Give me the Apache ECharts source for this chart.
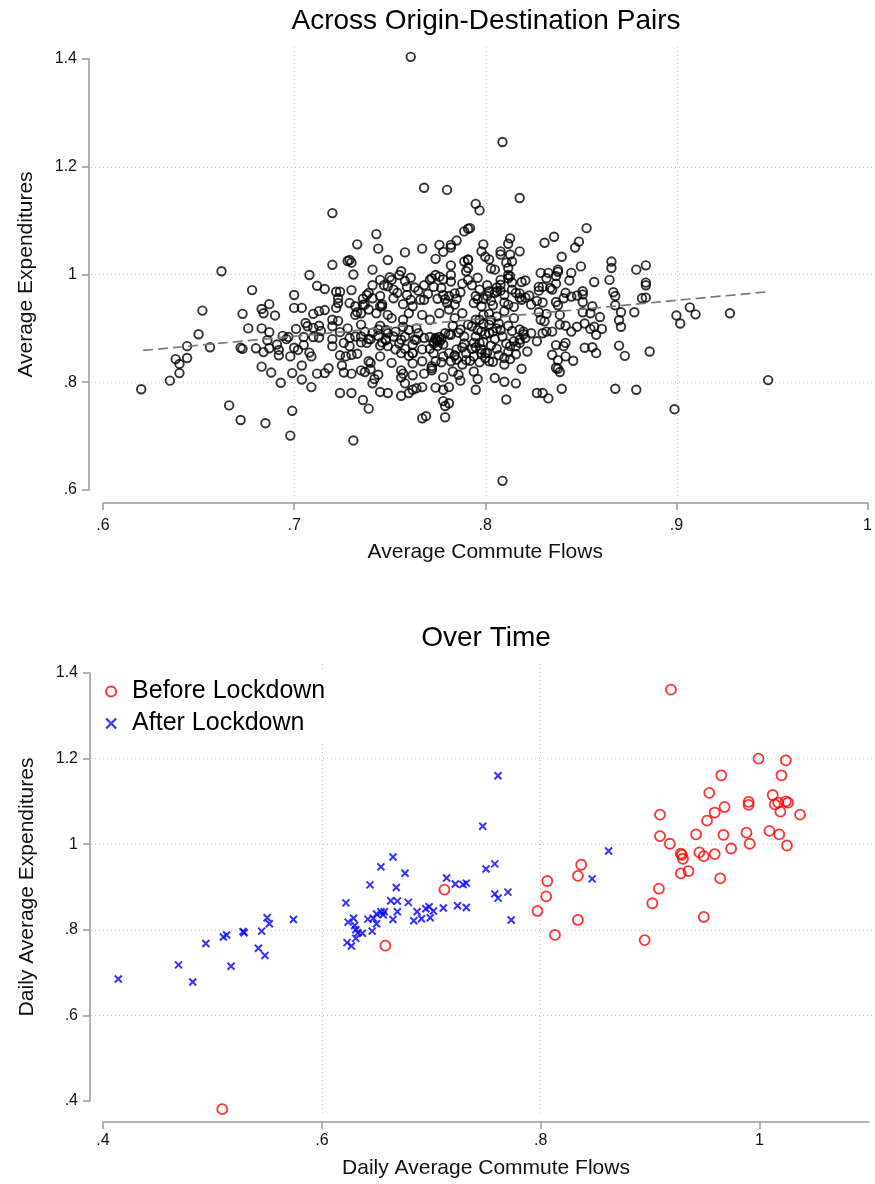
<!DOCTYPE html>
<html>
<head>
<meta charset="utf-8">
<script src="https://cdn.jsdelivr.net/npm/echarts@6/dist/echarts.min.js"></script>
<style>html,body{margin:0;padding:0;background:#fff}#c{width:875px;height:1184px}</style>
</head>
<body>
<div id="c"></div>
<script>
// ---------- Panel 1: Across Origin-Destination Pairs  [flows, expenditures] ----------
const odPoints = [
[0.620,0.787],[0.635,0.803],[0.640,0.817],[0.640,0.834],[0.638,0.843],[0.644,0.845],[0.644,0.867],[0.650,0.889],[0.652,0.933],[0.656,0.865],[0.662,1.006],[0.666,0.757],[0.672,0.730],[0.672,0.864],[0.673,0.862],[0.673,0.927],[0.676,0.900],[0.678,0.971],[0.680,0.863],[0.683,0.936],[0.684,0.928],[0.683,0.900],[0.683,0.829],[0.684,0.856],[0.685,0.724],[0.687,0.945],[0.687,0.863],[0.687,0.893],[0.686,0.878],[0.688,0.818],[0.690,0.924],[0.691,0.870],[0.692,0.860],[0.692,0.850],[0.693,0.799],[0.694,0.886],[0.696,0.880],[0.697,0.884],[0.698,0.701],[0.699,0.747],[0.699,0.817],[0.698,0.848],[0.700,0.864],[0.700,0.962],[0.700,0.938],[0.701,0.899],[0.704,0.938],[0.704,0.831],[0.704,0.805],[0.702,0.860],[0.705,0.869],[0.706,0.910],[0.707,0.904],[0.705,0.884],[0.708,0.999],[0.708,0.855],[0.709,0.848],[0.709,0.791],[0.710,0.884],[0.710,0.927],[0.710,0.901],[0.712,0.979],[0.713,0.932],[0.713,0.883],[0.712,0.816],[0.713,0.905],[0.716,0.973],[0.716,0.934],[0.716,0.817],[0.718,0.826],[0.720,0.916],[0.720,0.904],[0.720,0.880],[0.720,1.018],[0.720,0.867],[0.722,0.968],[0.723,0.956],[0.722,0.938],[0.723,0.947],[0.723,0.914],[0.724,0.893],[0.724,0.850],[0.724,0.968],[0.724,0.780],[0.725,0.831],[0.726,0.818],[0.726,0.873],[0.727,0.848],[0.728,1.025],[0.714,0.895],[0.728,0.900],
[0.720,1.114],[0.768,1.161],[0.780,1.157],[0.743,1.075],[0.733,1.056],[0.744,1.048],[0.758,1.041],[0.767,1.048],[0.774,1.029],[0.776,1.055],[0.778,1.042],[0.782,1.055],[0.782,1.050],[0.785,1.063],[0.789,1.080],[0.791,1.085],[0.749,1.027],[0.729,1.027],[0.730,1.022],[0.741,1.009],[0.731,1.000],[0.782,1.017],[0.789,1.024],[0.791,1.027],[0.756,1.006],[0.761,0.994],[0.758,0.988],[0.755,0.999],[0.730,0.971],[0.745,0.990],[0.750,0.995],[0.751,0.990],[0.747,0.980],[0.749,0.978],[0.741,0.980],[0.759,0.977],[0.763,0.976],[0.754,0.966],[0.739,0.966],[0.741,0.956],[0.738,0.962],[0.752,0.956],[0.761,0.953],[0.759,0.962],[0.768,0.980],[0.771,0.990],[0.772,0.993],[0.774,0.999],[0.776,0.996],[0.778,0.991],[0.773,0.977],[0.777,0.975],[0.778,0.962],[0.782,0.987],[0.784,0.965],[0.788,0.983],[0.791,0.990],[0.790,1.006],[0.782,0.999],[0.729,0.947],[0.766,0.953],[0.768,0.953],[0.779,0.954],[0.781,0.960],[0.787,0.967],[0.732,0.941],[0.736,0.944],[0.745,0.941],[0.737,0.944],[0.746,0.941],
[0.731,0.692],[0.736,0.767],[0.739,0.751],[0.767,0.733],[0.769,0.737],[0.779,0.735],[0.779,0.756],[0.778,0.765],[0.781,0.761],[0.730,0.780],[0.745,0.782],[0.749,0.780],[0.756,0.775],[0.760,0.780],[0.762,0.786],[0.764,0.789],[0.767,0.791],[0.774,0.790],[0.778,0.786],[0.781,0.791],[0.741,0.798],[0.742,0.806],[0.744,0.814],[0.735,0.822],[0.737,0.819],[0.740,0.824],[0.730,0.816],[0.758,0.798],[0.756,0.809],[0.756,0.822],[0.757,0.816],[0.762,0.813],[0.768,0.816],[0.772,0.826],[0.772,0.822],[0.778,0.809],[0.783,0.820],[0.786,0.814],[0.787,0.803],[0.739,0.839],[0.740,0.836],[0.751,0.836],[0.745,0.848],[0.762,0.835],[0.767,0.839],[0.774,0.839],[0.777,0.837],[0.782,0.839],[0.788,0.833],[0.730,0.851],[0.733,0.853],[0.729,0.867],[0.735,0.874],[0.738,0.873],[0.735,0.885],[0.740,0.880],[0.744,0.886],[0.746,0.874],[0.748,0.878],[0.749,0.867],[0.753,0.861],[0.756,0.854],[0.758,0.862],[0.760,0.849],[0.762,0.854],[0.767,0.861],[0.771,0.862],[0.773,0.854],[0.778,0.848],[0.781,0.854],[0.785,0.861],[0.784,0.850],[0.790,0.854],[0.772,0.830],[0.774,0.882],[0.774,0.879],[0.775,0.877],[0.776,0.875],[0.773,0.875],[0.778,0.870],[0.779,0.891],[0.781,0.889],[0.787,0.898],[0.789,0.885],[0.765,0.891],[0.768,0.882],[0.763,0.879],[0.758,0.885],[0.756,0.879],[0.753,0.894],[0.749,0.891],[0.744,0.898],[0.737,0.894],[0.732,0.885],[0.729,0.882],[0.735,0.907],[0.732,0.925],[0.735,0.928],[0.739,0.935],[0.743,0.928],[0.746,0.945],[0.749,0.925],[0.751,0.919],[0.757,0.916],[0.760,0.928],[0.762,0.941],[0.767,0.925],[0.771,0.916],[0.776,0.928],[0.781,0.935],[0.784,0.944],[0.784,0.919],[0.788,0.928],[0.791,0.907],[0.739,0.880],[0.748,0.879],[0.764,0.879],[0.782,0.888],[0.762,0.854],[0.784,0.849],
[0.771,0.884],[0.776,0.884],[0.773,0.872],[0.777,0.880],[0.775,0.867],[0.757,0.903],[0.760,0.897],[0.764,0.900],[0.762,0.870],[0.755,0.872],[0.745,0.905],[0.748,0.897],[0.752,0.885],[0.745,0.868],[0.741,0.892],[0.783,0.905],[0.786,0.892],[0.789,0.872],[0.785,0.842],[0.790,0.841],[0.788,0.865],
[0.818,1.142],[0.795,1.131],[0.797,1.119],[0.792,1.086],[0.853,1.086],[0.836,1.070],[0.831,1.059],[0.849,1.061],[0.847,1.050],[0.813,1.067],[0.812,1.057],[0.799,1.056],[0.818,1.043],[0.808,1.043],[0.808,1.037],[0.813,1.037],[0.798,1.043],[0.800,1.033],[0.802,1.028],[0.811,1.022],[0.814,1.024],[0.803,1.011],[0.805,1.009],[0.812,1.012],[0.840,1.033],[0.850,1.015],[0.866,1.024],[0.866,1.012],[0.879,1.009],[0.884,1.017],[0.838,1.009],[0.838,1.005],[0.833,1.003],[0.829,1.003],[0.812,0.999],[0.813,0.997],[0.845,1.003],[0.837,0.997],[0.832,0.993],[0.844,0.989],[0.857,0.986],[0.865,0.990],[0.884,0.980],[0.882,0.956],[0.867,0.967],[0.868,0.960],[0.868,0.943],[0.796,0.994],[0.793,0.980],[0.808,0.990],[0.808,0.981],[0.812,0.993],[0.819,0.986],[0.821,0.989],[0.814,0.985],[0.814,0.972],[0.816,0.966],[0.818,0.957],[0.821,0.957],[0.823,0.961],[0.828,0.977],[0.830,0.977],[0.828,0.970],[0.834,0.975],[0.837,0.983],[0.835,0.972],[0.842,0.966],[0.841,0.956],[0.845,0.959],[0.848,0.961],[0.851,0.969],[0.851,0.963],[0.851,0.949],[0.856,0.941],[0.827,0.951],[0.830,0.948],[0.837,0.949],[0.838,0.943],[0.802,0.969],[0.805,0.966],[0.806,0.969],[0.808,0.970],[0.795,0.960],[0.796,0.954],[0.799,0.955],[0.801,0.960],[0.794,0.947],[0.798,0.941],[0.804,0.943],[0.810,0.948],[0.815,0.940],[0.819,0.953],[0.791,1.028],[0.791,1.012],
[0.797,0.972],[0.801,0.980],[0.806,0.976],[0.810,0.962],[0.803,0.951],[0.812,0.944],[0.818,0.965],[0.824,0.944],[0.765,0.970],[0.770,0.964],[0.775,0.955],[0.780,0.947],[0.785,0.955],[0.757,0.945],[0.752,0.972],[0.745,0.960],[0.736,0.955],[0.733,0.930],
[0.886,0.857],[0.879,0.786],[0.868,0.788],[0.873,0.849],[0.870,0.868],[0.871,0.903],[0.870,0.915],[0.871,0.930],[0.878,0.930],[0.861,0.899],[0.860,0.921],[0.857,0.903],[0.858,0.888],[0.855,0.899],[0.852,0.909],[0.855,0.928],[0.851,0.930],[0.856,0.865],[0.858,0.854],[0.852,0.864],[0.848,0.903],[0.845,0.894],[0.842,0.905],[0.846,0.840],[0.842,0.848],[0.838,0.841],[0.838,0.825],[0.839,0.819],[0.837,0.827],[0.841,0.867],[0.842,0.873],[0.837,0.869],[0.835,0.851],[0.840,0.788],[0.839,0.907],[0.839,0.925],[0.835,0.894],[0.832,0.894],[0.830,0.891],[0.831,0.913],[0.829,0.916],[0.827,0.876],[0.822,0.857],[0.819,0.825],[0.827,0.780],[0.830,0.780],[0.833,0.770],[0.811,0.768],[0.816,0.798],[0.810,0.801],[0.805,0.808],[0.795,0.786],[0.796,0.806],[0.794,0.820],[0.797,0.837],[0.792,0.840],[0.794,0.848],[0.800,0.854],[0.798,0.854],[0.801,0.855],[0.804,0.838],[0.802,0.839],[0.810,0.833],[0.810,0.845],[0.813,0.843],[0.806,0.862],[0.813,0.867],[0.816,0.867],[0.818,0.873],[0.820,0.889],[0.818,0.898],[0.814,0.895],[0.812,0.905],[0.815,0.919],[0.810,0.932],[0.806,0.922],[0.802,0.927],[0.799,0.925],[0.797,0.916],[0.793,0.904],[0.795,0.885],[0.798,0.894],[0.800,0.889],[0.802,0.907],[0.804,0.894],[0.806,0.900],[0.808,0.897],[0.794,0.873],[0.797,0.873],[0.799,0.875],[0.795,0.865],[0.798,0.861],[0.802,0.891],[0.815,0.876],[0.818,0.879],[0.820,0.894],[0.821,0.882],[0.824,0.891],[0.828,0.930],[0.832,0.927],
[0.795,0.916],[0.799,0.908],[0.803,0.915],[0.807,0.909],[0.805,0.880],[0.809,0.885],[0.811,0.872],[0.803,0.868],[0.800,0.845],[0.807,0.850],[0.812,0.856],[0.816,0.852],[0.796,0.897],[0.793,0.862],
[0.761,1.404],[0.809,1.246],[0.809,0.617],[0.948,0.804],[0.899,0.750],[0.902,0.909],[0.900,0.924],[0.907,0.939],[0.910,0.926],[0.928,0.928],[0.884,0.985],[0.884,0.957]
];
// linear fit end points
const fitFlows = [0.621, 0.948];
const fitExpend = [0.859, 0.968];

// ---------- Panel 2: Over Time  [daily flows, daily expenditures] ----------
const beforePoints = [
[0.658,0.763],[0.712,0.894],[0.797,0.844],[0.805,0.878],[0.806,0.914],[0.509,0.381],[0.919,1.361],[0.999,1.200],[1.024,1.196],[1.020,1.161],[0.965,1.161],[0.954,1.120],[1.012,1.115],[0.990,1.099],[0.990,1.092],[1.014,1.093],[1.017,1.097],[1.024,1.100],[1.026,1.097],[0.968,1.087],[0.959,1.074],[1.019,1.076],[1.037,1.069],[0.909,1.069],[0.952,1.055],[0.909,1.019],[0.942,1.023],[0.967,1.022],[0.988,1.027],[1.009,1.031],[1.018,1.023],[0.918,1.001],[0.991,1.001],[1.025,0.997],[0.974,0.990],[0.928,0.978],[0.929,0.975],[0.930,0.966],[0.945,0.981],[0.949,0.972],[0.959,0.977],[0.928,0.932],[0.935,0.937],[0.964,0.920],[0.908,0.896],[0.813,0.788],[0.834,0.823],[0.834,0.926],[0.837,0.952],[0.895,0.776],[0.902,0.862],[0.949,0.830]
];
const afterPoints = [
[0.414,0.685],[0.469,0.718],[0.482,0.678],[0.494,0.768],[0.510,0.783],[0.513,0.788],[0.517,0.715],[0.528,0.796],[0.529,0.793],[0.545,0.797],[0.542,0.757],[0.548,0.740],[0.550,0.828],[0.552,0.814],[0.574,0.824],[0.622,0.863],[0.624,0.818],[0.629,0.827],[0.630,0.810],[0.631,0.800],[0.633,0.793],[0.637,0.792],[0.631,0.780],[0.623,0.770],[0.627,0.762],[0.644,0.905],[0.642,0.825],[0.647,0.827],[0.646,0.797],[0.650,0.814],[0.650,0.837],[0.654,0.842],[0.657,0.842],[0.656,0.835],[0.654,0.947],[0.665,0.970],[0.676,0.932],[0.668,0.899],[0.663,0.868],[0.669,0.867],[0.669,0.842],[0.665,0.824],[0.679,0.864],[0.687,0.842],[0.684,0.821],[0.691,0.826],[0.695,0.849],[0.698,0.854],[0.702,0.844],[0.699,0.828],[0.711,0.851],[0.714,0.921],[0.722,0.907],[0.729,0.906],[0.732,0.909],[0.724,0.856],[0.732,0.852],[0.747,1.042],[0.761,1.160],[0.750,0.942],[0.758,0.954],[0.758,0.884],[0.761,0.874],[0.770,0.888],[0.773,0.823],[0.862,0.984],[0.847,0.919]
];

// tick values
const topXTicks = [0.6, 0.7, 0.8, 0.9, 1.0];
const topYTicks = [0.6, 0.8, 1.0, 1.2, 1.4];
const botXTicks = [0.4, 0.6, 0.8, 1.0];
const botYTicks = [0.4, 0.6, 0.8, 1.0, 1.2, 1.4];

const FONT = 'Liberation Sans, Arial, sans-serif';
function fmt(v){ let s = String(Math.round(v*10)/10); return s.replace(/^0\./,'.'); }

const AXC = '#9a9a9a';
function mainAxis(o){
  return Object.assign({
    type:'value',
    axisLine:{show:true, lineStyle:{color:AXC, width:1.5}},
    axisTick:{show:true, length:7, customValues:o.ticks, lineStyle:{color:AXC, width:1.5}},
    splitLine:{show:false},
    axisLabel:{color:'#111', fontSize:16, fontFamily:FONT, formatter:fmt, margin:o.margin, customValues:o.ticks},
    nameLocation:'middle',
    nameTextStyle:{color:'#111', fontSize:21, fontFamily:FONT}
  }, o.extra);
}
// frame axes: only the dotted grid lines across the whole plot region
function frameAxis(o){
  return Object.assign({
    type:'value', min:o.min, max:o.max,
    axisLine:{show:false},
    axisTick:{show:false, customValues:o.ticks},
    axisLabel:{show:false, customValues:o.ticks},
    splitLine:{show:true, showMinLine:false, showMaxLine:false, lineStyle:{color:'#c4c4c4', type:[1,3], width:1}}
  }, o.extra);
}

const xPath = 'path://M0,0L10,10M10,0L0,10';

const chart = echarts.init(document.getElementById('c'), null, {renderer:'canvas'});
chart.setOption({
  animation:false,
  backgroundColor:'#fff',
  title:[
    {text:'Across Origin-Destination Pairs', left:486, top:7, textAlign:'center', padding:0,
     textStyle:{fontFamily:FONT, fontSize:28, fontWeight:'normal', color:'#000'}},
    {text:'Over Time', left:486, top:624, textAlign:'center', padding:0,
     textStyle:{fontFamily:FONT, fontSize:28, fontWeight:'normal', color:'#000'}}
  ],
  grid:[
    {left:103, top:59, width:766, height:431},
    {left:103, top:673, width:766, height:428},
    {left:91, top:47, width:784, height:451},
    {left:91, top:664, width:784, height:449}
  ],
  xAxis:[
    mainAxis({ticks:topXTicks, margin:15, extra:{gridIndex:0, min:0.6, max:1.0, offset:13, name:'Average Commute Flows', nameGap:39}}),
    mainAxis({ticks:botXTicks, margin:11, extra:{gridIndex:1, min:0.4, max:1.1, offset:21, name:'Daily Average Commute Flows', nameGap:36}}),
    frameAxis({ticks:topXTicks, min:0.6-12/1915, max:1.0+6/1915, extra:{gridIndex:2}}),
    frameAxis({ticks:botXTicks, min:0.4-12/1094, max:1.1+6/1094, extra:{gridIndex:3}})
  ],
  yAxis:[
    mainAxis({ticks:topYTicks, margin:12, extra:{gridIndex:0, min:0.6, max:1.4, offset:14, name:'Average Expenditures', nameGap:52}}),
    mainAxis({ticks:botYTicks, margin:12, extra:{gridIndex:1, min:0.4, max:1.4, offset:13, name:'Daily Average Expenditures', nameGap:52}}),
    frameAxis({ticks:topYTicks, min:0.6-8/538.75, max:1.4+12/538.75, extra:{gridIndex:2}}),
    frameAxis({ticks:botYTicks, min:0.4-12/428, max:1.4+9/428, extra:{gridIndex:3}})
  ],
  legend:{
    left:95, top:671, orient:'vertical', padding:[8,10,8,10], itemGap:7,
    backgroundColor:'#fff', itemWidth:10, itemHeight:10,
    textStyle:{fontFamily:FONT, fontSize:25, color:'#000', padding:[0,0,0,11]},
    data:[
      {name:'Before Lockdown', icon:'circle', itemStyle:{color:'rgba(0,0,0,0)', borderColor:'#ff0000', borderWidth:2}},
      {name:'After Lockdown', icon:xPath, itemStyle:{color:'#0000ff', borderColor:'#0000ff', borderWidth:2.2}}
    ]
  },
  series:[
    {type:'scatter', xAxisIndex:0, yAxisIndex:0, data:odPoints, symbol:'circle', symbolSize:8.5, clip:false,
     itemStyle:{color:'rgba(0,0,0,0)', borderColor:'#000', borderWidth:1.9}, silent:true},
    {type:'line', xAxisIndex:0, yAxisIndex:0, data:fitFlows.map((f,i)=>[f, fitExpend[i]]), symbol:'none',
     lineStyle:{color:'#7a7a7a', width:1.7, type:[10,5]}, silent:true},
    {type:'scatter', name:'Before Lockdown', xAxisIndex:1, yAxisIndex:1, data:beforePoints, symbol:'circle', symbolSize:10, clip:false,
     itemStyle:{color:'rgba(0,0,0,0)', borderColor:'#ff0000', borderWidth:1.8}, silent:true},
    {type:'scatter', name:'After Lockdown', xAxisIndex:1, yAxisIndex:1, data:afterPoints, symbol:xPath, symbolSize:7, clip:false,
     itemStyle:{color:'#0000ff', borderColor:'#0000ff', borderWidth:2}, silent:true}
  ]
});
</script>
</body>
</html>
